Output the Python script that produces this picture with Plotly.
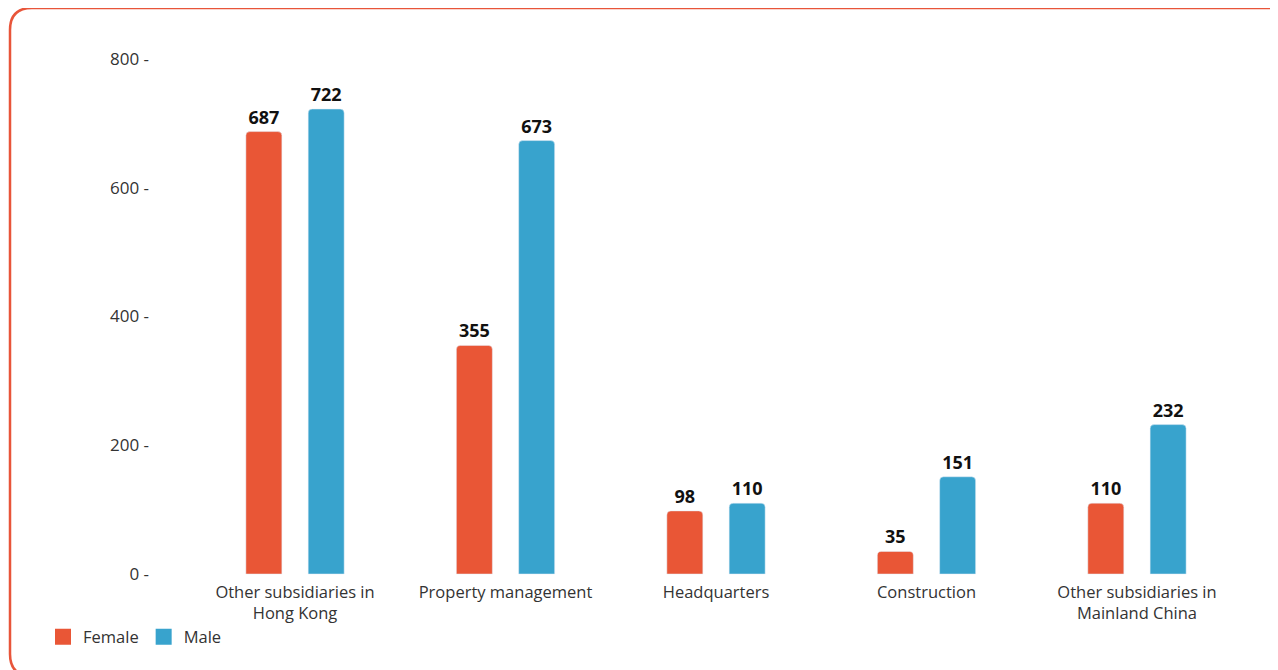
import plotly.graph_objects as go

categories = ["Other subsidiaries in<br>Hong Kong", "Property management", "Headquarters",
              "Construction", "Other subsidiaries in<br>Mainland China"]
female = [687, 355, 98, 35, 110]
male = [722, 673, 110, 151, 232]
ytick_vals = [0, 200, 400, 600, 800]
ytick_text = ["0 -", "200 -", "400 -", "600 -", "800 -"]

ORANGE = "#E95636"
BLUE = "#38A3CD"
FONT = "Open Sans"

# page is offset by the 8px body margin
OFF = 8
W, H = 1270, 662
L, R, T, B = 142, 28, 32, 90
pw, ph = W - L - R, H - T - B

x_idx = list(range(len(categories)))
bw = 0.171
half_gap = 0.148

label_font = dict(family=FONT, size=18, color="#111111", weight="bold")

fig = go.Figure()
fig.add_trace(go.Bar(x=x_idx, y=female, name="Female", width=bw, offset=-half_gap - bw / 2,
                     marker=dict(color=ORANGE, cornerradius=4), showlegend=False,
                     text=female, textposition="outside", cliponaxis=False, textfont=label_font))
fig.add_trace(go.Bar(x=x_idx, y=male, name="Male", width=bw, offset=half_gap - bw / 2,
                     marker=dict(color=BLUE, cornerradius=4), showlegend=False,
                     text=male, textposition="outside", cliponaxis=False, textfont=label_font))
# legend entries
fig.add_trace(go.Scatter(x=[None], y=[None], mode="markers", name="Female",
                         marker=dict(symbol="square", size=19, color=ORANGE)))
fig.add_trace(go.Scatter(x=[None], y=[None], mode="markers", name="Male",
                         marker=dict(symbol="square", size=19, color=BLUE)))


def px(xp):
    return (xp - OFF - L) / pw


def py(yp):
    return (H - B - (yp - OFF)) / ph


# rounded border (extends past right and bottom edges)
x0, y0, x1, y1, r = 10, 8, 1320, 676, 22
path = (f"M {px(x0)} {py(y0 + r)} Q {px(x0)} {py(y0)} {px(x0 + r)} {py(y0)} "
        f"L {px(x1)} {py(y0)} L {px(x1)} {py(y1)} L {px(x0 + r)} {py(y1)} "
        f"Q {px(x0)} {py(y1)} {px(x0)} {py(y1 - r)} Z")

fig.update_layout(
    width=W, height=H,
    margin=dict(l=L, r=R, t=T, b=B),
    paper_bgcolor="white", plot_bgcolor="white",
    barmode="overlay",
    font=dict(family=FONT, size=16, color="#333333"),
    shapes=[dict(type="path", xref="paper", yref="paper", path=path,
                 line=dict(color="#E8553A", width=2.5), fillcolor="rgba(0,0,0,0)")],
    xaxis=dict(range=[-0.689, 4.537], tickvals=x_idx, ticktext=categories,
               showgrid=False, zeroline=False, showline=False, ticks="",
               tickfont=dict(size=16.5, color="#333333")),
    yaxis=dict(range=[-9.3, 829.2], tickvals=ytick_vals, ticktext=ytick_text,
               showgrid=False, zeroline=False, showline=False, ticks="",
               tickfont=dict(size=17, color="#333333")),
    legend=dict(orientation="h", x=px(43), xanchor="left", y=py(637), yanchor="middle",
                font=dict(size=16.5, color="#333333"), itemwidth=30,
                bgcolor="rgba(0,0,0,0)"),
    showlegend=True,
)

fig.write_html("out.html")
